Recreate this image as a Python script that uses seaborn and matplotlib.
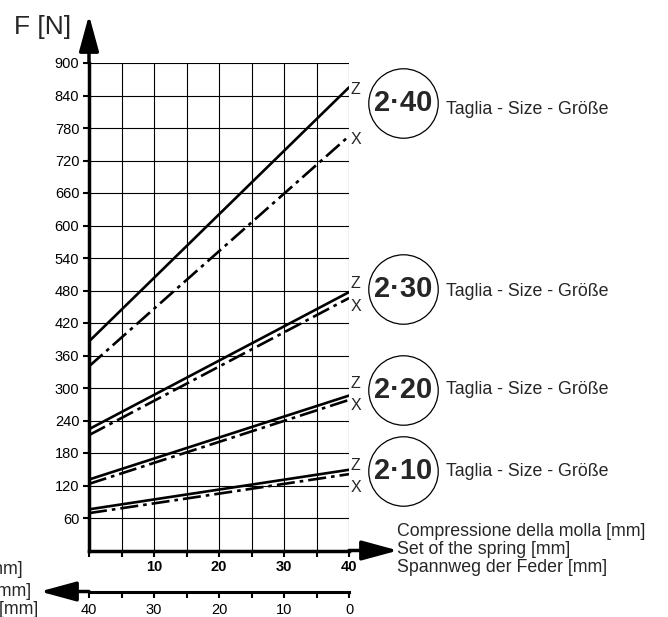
import pandas as pd
import matplotlib
matplotlib.use('Agg')
import matplotlib.pyplot as plt
from matplotlib.lines import Line2D
import seaborn as sns

# ----------------------------
# Data
# ----------------------------
set_mm = [0, 40]
sizes = ['2·10', '2·20', '2·30', '2·40']
z_start = [76, 131, 224, 386]
z_end = [149, 286, 477, 855]
x_start = [69, 123, 213, 340]
x_end = [141, 278, 466, 765]

y_ticks = list(range(60, 901, 60))
x_ticks = list(range(0, 41, 5))
x_labels = ['', '', '10', '', '20', '', '30', '', '40']
rev_labels = ['0', '', '10', '', '20', '', '30', '', '40']
axis_text = ['Compressione della molla [mm]', 'Set of the spring [mm]',
             'Spannweg der Feder [mm]']
left_text = ['Corsa residua [mm]', 'Remaining stroke [mm]', 'Restweg [mm]']
size_text = 'Taglia - Size - Größe'

# ----------------------------
# Layout (pixels of the 668x617 picture)
# ----------------------------
W, H = 668, 617
px0, px40 = 89, 349          # x = 0 and x = 40 mm
py0, py900 = 550.5, 63       # y = 0 and y = 900 N
badge_x = 403
badge_y = [471, 390, 289, 103]
text_dy = [0, 0, 2, 6]
zx_y = [(466, 487), (384, 405), (283, 306), (89, 140)]
axis_text_y = [532, 550, 568]
left_text_xy = [(23, 570), (31, 591), (38, 610)]
low_axis_y = 591.5


def fx(x):
    return x / W


def fy(y):
    return 1 - y / H


sns.set_theme(style='white')
plt.rcParams['font.family'] = ['Liberation Sans', 'DejaVu Sans']
plt.rcParams['lines.scale_dashes'] = False

fig = plt.figure(figsize=(W / 100, H / 100), dpi=100)
ax = fig.add_axes([fx(px0), fy(py0), fx(px40 - px0), (py0 - py900) / H])

# ----------------------------
# Curves
# ----------------------------
rows = []
for i, s in enumerate(sizes):
    for curve, a, b in (('Z', z_start[i], z_end[i]), ('X', x_start[i], x_end[i])):
        for mm, n in zip(set_mm, (a, b)):
            rows.append({'mm': mm, 'N': n, 'size': s, 'curve': curve,
                         'line': s + curve})
df = pd.DataFrame(rows)

sns.lineplot(data=df, x='mm', y='N', units='line', estimator=None,
             style='curve', dashes={'Z': '', 'X': (13, 3.6, 2.6, 3.6)},
             color='black', lw=1.9, legend=False, sort=False, ax=ax, zorder=3)

ax.set_xlim(0, 40)
ax.set_ylim(0, 900)
ax.set_xticks(x_ticks)
ax.set_xticklabels(x_labels, fontweight='bold', fontsize=10.5)
ax.set_yticks(y_ticks)
ax.set_yticklabels(y_ticks, fontsize=10.5)
ax.set_xlabel('')
ax.set_ylabel('')
ax.grid(True, color='black', lw=0.8)
ax.set_axisbelow(True)
ax.tick_params(direction='out', length=4, width=1.5, pad=3,
               bottom=True, left=True, colors='black')
for side in ['top', 'right']:
    ax.spines[side].set_visible(False)
for side in ['left', 'bottom']:
    ax.spines[side].set_linewidth(2.5)
    ax.spines[side].set_color('black')

arrow = dict(arrowstyle='-|>,head_length=22,head_width=6', mutation_scale=1,
             lw=2.5, color='black', shrinkA=0, shrinkB=0)
ax.annotate('', xy=(0, (py0 - 15) / (py0 - py900) * 900), xytext=(0, 900),
            arrowprops=arrow, annotation_clip=False)
ax.annotate('', xy=(40 + (398 - px40) / 6.5, 0), xytext=(40, 0),
            arrowprops=arrow, annotation_clip=False)

fig.text(fx(14), fy(27), 'F [N]', fontsize=19, ha='left', va='center')

# Z / X end labels, size badges
for i, s in enumerate(sizes):
    fig.text(fx(351), fy(zx_y[i][0]), 'Z', fontsize=11.5, ha='left', va='center')
    fig.text(fx(351), fy(zx_y[i][1]), 'X', fontsize=11.5, ha='left', va='center')
    fig.add_artist(Line2D([fx(badge_x)], [fy(badge_y[i])], marker='o', ms=50,
                          mfc='none', mec='black', mew=0.9,
                          transform=fig.transFigure))
    fig.text(fx(badge_x), fy(badge_y[i]), s, fontsize=21, fontweight='bold',
             ha='center', va='center')
    fig.text(fx(446), fy(badge_y[i] + text_dy[i]), size_text, fontsize=12.8,
             ha='left', va='center')

for t, y in zip(axis_text, axis_text_y):
    fig.text(fx(397), fy(y), t, fontsize=12.8, ha='left', va='center')

# ----------------------------
# Lower (reversed) axis
# ----------------------------
ax2 = fig.add_axes([fx(px0), fy(low_axis_y), fx(px40 - px0), 0.0001])
ax2.set_xlim(40, 0)
ax2.set_ylim(0, 1)
ax2.set_yticks([])
ax2.set_xticks(x_ticks)
ax2.set_xticklabels(rev_labels, fontsize=10.5)
ax2.tick_params(direction='out', length=4, width=1.5, pad=4, bottom=True,
                colors='black')
ax2.patch.set_visible(False)
for side in ['top', 'right', 'left']:
    ax2.spines[side].set_visible(False)
ax2.spines['bottom'].set_linewidth(2.2)
ax2.spines['bottom'].set_color('black')
ax2.annotate('', xy=(40 + (px0 - 40) / 6.5, 0), xytext=(40, 0),
             arrowprops=arrow, annotation_clip=False)

for t, (x, y) in zip(left_text, left_text_xy):
    fig.text(fx(x), fy(y), t, fontsize=12.8, ha='right', va='center')

fig.savefig('out.png', dpi=100)
